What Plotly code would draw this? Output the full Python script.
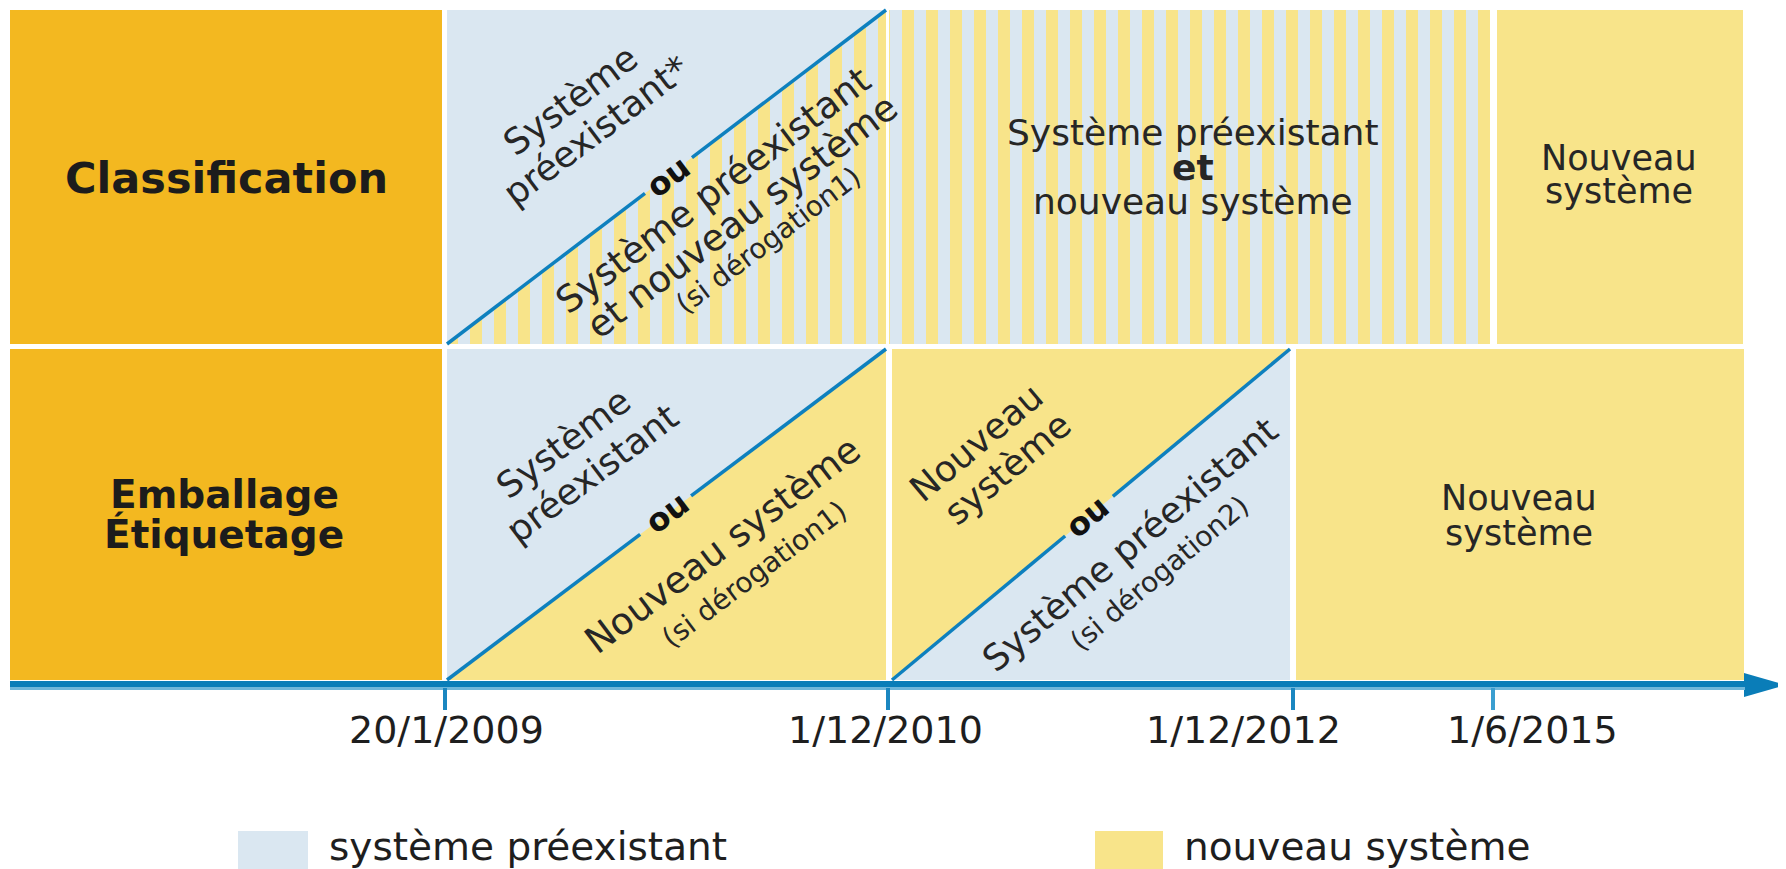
import plotly.graph_objects as go

# ---------------- data ----------------
dates = ["20/1/2009", "1/12/2010", "1/12/2012", "1/6/2015"]
row_labels = ["Classification", "Emballage", "Étiquetage"]
legend_labels = ["système préexistant", "nouveau système"]

top_c2_upper = ["Système", "préexistant*"]
top_c2_lower = ["Système préexistant", "et nouveau système", "(si dérogation1)"]
top_c3 = ["Système préexistant", "et", "nouveau système"]
top_c4 = ["Nouveau", "système"]
bot_c2_upper = ["Système", "préexistant"]
bot_c2_lower = ["Nouveau système", "(si dérogation1)"]
bot_c3_upper = ["Nouveau", "système"]
bot_c3_lower = ["Système préexistant", "(si dérogation2)"]
bot_c4 = ["Nouveau", "système"]
or_word = "ou"

# ---------------- layout constants (page pixels) ----------------
W, H = 1786, 869
OFF = 8  # default page body margin of the written html
ORANGE = "#F3B820"
BLUE = "#DAE7F1"
YELLOW = "#F8E48A"
LINE = "#0E80BE"
AXIS = "#0A7DB8"
TXT = "#262626"
FONT = "DejaVu Sans"

tick_x = [445, 888, 1293, 1493]
label_x = [446, 885, 1243, 1532]
TOP = (10, 344)
BOT = (349, 680)

fig = go.Figure()
shapes = []

def rect(x0, x1, y0, y1, color, layer="below"):
    shapes.append(dict(type="rect", xref="x", yref="y", x0=x0, x1=x1, y0=y0, y1=y1,
                       fillcolor=color, line=dict(width=0), layer=layer))

def poly(xs, ys, color=None, striped=False):
    kw = dict(x=xs + [xs[0]], y=ys + [ys[0]], mode="lines", fill="toself",
              line=dict(width=0), hoverinfo="skip", showlegend=False)
    if striped:
        kw["fillcolor"] = BLUE
        kw["fillpattern"] = dict(shape="|", bgcolor=BLUE, fgcolor=YELLOW, size=24,
                                 solidity=0.5, fillmode="replace")
    else:
        kw["fillcolor"] = color
    fig.add_trace(go.Scatter(**kw))

def diag(p0, p1, t0, t1):
    for a, b in ((0, t0), (t1, 1)):
        xs = [p0[0] + (p1[0] - p0[0]) * a, p0[0] + (p1[0] - p0[0]) * b]
        ys = [p0[1] + (p1[1] - p0[1]) * a, p0[1] + (p1[1] - p0[1]) * b]
        fig.add_trace(go.Scatter(x=xs, y=ys, mode="lines", line=dict(color=LINE, width=3.5),
                                 hoverinfo="skip", showlegend=False))

# orange label column
rect(10, 442, TOP[0], TOP[1], ORANGE)
rect(10, 442, BOT[0], BOT[1], ORANGE)

# top row
rect(447, 886, TOP[0], TOP[1], BLUE)
poly([447, 886, 886], [TOP[1], TOP[0], TOP[1]], striped=True)
poly([889, 1490, 1490, 889], [TOP[0], TOP[0], TOP[1], TOP[1]], striped=True)
rect(1497, 1743, TOP[0], TOP[1], YELLOW)

# bottom row
rect(447, 886, BOT[0], BOT[1], BLUE)
poly([447, 886, 886], [BOT[1], BOT[0], BOT[1]], YELLOW)
rect(892, 1290, BOT[0], BOT[1], YELLOW)
poly([892, 1290, 1290], [BOT[1], BOT[0], BOT[1]], BLUE)
rect(1296, 1744, BOT[0], BOT[1], YELLOW)

# diagonals with a gap for "ou"
diag((447, TOP[1]), (886, TOP[0]), 0.451, 0.558)
diag((447, BOT[1]), (886, BOT[0]), 0.44, 0.556)
diag((892, BOT[1]), (1290, BOT[0]), 0.435, 0.555)

# time axis
rect(10, 1745, 681, 687, AXIS, layer="above")
rect(10, 1745, 687, 690, "#6FB6DA", layer="above")
fig.add_trace(go.Scatter(x=[1744, 1786, 1744, 1744], y=[673, 685, 697, 673], mode="lines",
                         fill="toself", fillcolor=AXIS, line=dict(width=0),
                         hoverinfo="skip", showlegend=False))
for i, tx in enumerate(tick_x):
    col = "#1A86C0" if i < 3 else "#3A9ED0"
    rect(tx - 2, tx + 2, 688, 710, col, layer="above")

annotations = []

def txt(x, y, s, size, bold=False, angle=0, color=TXT, xanchor="center"):
    annotations.append(dict(x=x, y=y, xref="x", yref="y", text=(f"<b>{s}</b>" if bold else s),
                            showarrow=False, textangle=angle, xanchor=xanchor, yanchor="middle",
                            font=dict(family=FONT, size=size, color=color)))

# row labels
txt(226, 178, row_labels[0], 43, bold=True, color="#1c1c1c")
txt(224, 494, row_labels[1], 39, bold=True, color="#1c1c1c")
txt(224, 534, row_labels[2], 39, bold=True, color="#1c1c1c")

# top row texts
A1 = -37
for (x, y), s in zip([(570, 100), (596, 130)], top_c2_upper):
    txt(x, y, s, 36, angle=A1)
for (x, y), s, sz in zip([(713, 190), (742, 216), (768, 240)], top_c2_lower, [37, 37, 28]):
    txt(x, y, s, sz, angle=A1)
txt(668, 177, or_word, 32, bold=True, angle=A1, color="#111")

for (y, s, b) in zip([132, 167, 201], top_c3, [False, True, False]):
    txt(1193, y, s, 36, bold=b)
for y, s in zip([158, 191], top_c4):
    txt(1619, y, s, 35)

# bottom row texts
for (x, y), s in zip([(563, 443), (592, 473)], bot_c2_upper):
    txt(x, y, s, 36, angle=A1)
for (x, y), s, sz in zip([(722, 545), (754, 574)], bot_c2_lower, [37, 28]):
    txt(x, y, s, sz, angle=A1)
txt(667, 513, or_word, 32, bold=True, angle=A1, color="#111")

A2 = -40
for (x, y), s in zip([(976, 442), (1007, 468)], bot_c3_upper):
    txt(x, y, s, 36, angle=A2)
for (x, y), s, sz in zip([(1130, 544), (1159, 573)], bot_c3_lower, [36, 28]):
    txt(x, y, s, sz, angle=A2)
txt(1087, 517, or_word, 32, bold=True, angle=A2, color="#111")

for y, s in zip([498, 533], bot_c4):
    txt(1519, y, s, 35)

# date labels
for lx, d in zip(label_x, dates):
    txt(lx, 730, d, 38, color="#1e1e1e")

# legend
rect(238, 308, 831, 875, BLUE)
rect(1095, 1163, 831, 875, YELLOW)
txt(327, 846, legend_labels[0], 39, xanchor="left", color="#1e1e1e")
txt(1182, 846, legend_labels[1], 39, xanchor="left", color="#1e1e1e")

fig.update_layout(
    width=W - OFF, height=H - OFF, margin=dict(l=0, r=0, t=0, b=0),
    paper_bgcolor="white", plot_bgcolor="white",
    xaxis=dict(range=[OFF, W], visible=False, fixedrange=True),
    yaxis=dict(range=[H, OFF], visible=False, fixedrange=True),
    shapes=shapes, annotations=annotations, showlegend=False,
)
fig.write_html("out.html")
